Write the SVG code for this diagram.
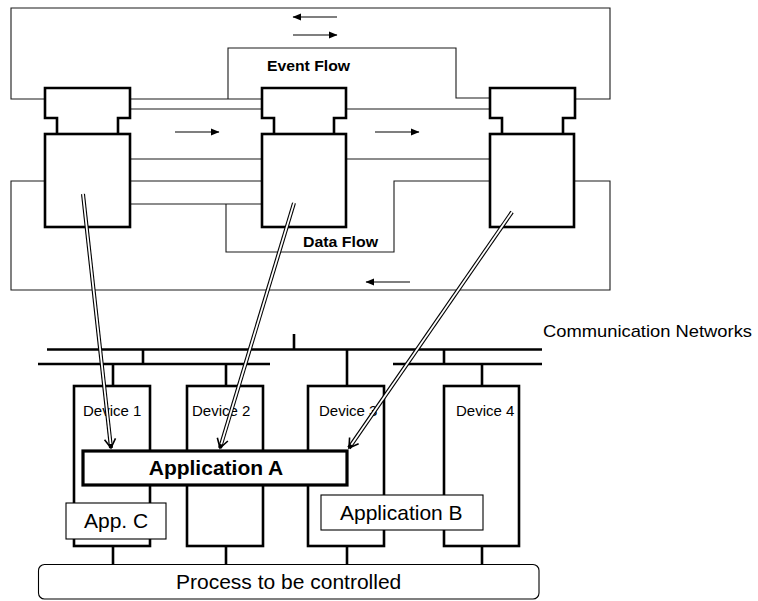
<svg xmlns="http://www.w3.org/2000/svg" width="758" height="601" viewBox="0 0 758 601">
  <defs>
    <style>
      text { font-family: "Liberation Sans", Arial, sans-serif; fill: #000; }
      .wire { fill: none; stroke: #1a1a1a; stroke-width: 1.1; }
      .fb { fill: #fff; stroke: #000; stroke-width: 2.6; stroke-linejoin: miter; }
      .dev { fill: #fff; stroke: #000; stroke-width: 2.6; }
      .bus { fill: none; stroke: #000; stroke-width: 2.6; }
      .app { fill: #fff; stroke: #000; stroke-width: 1.1; }
      .appA { fill: #fff; stroke: #000; stroke-width: 3.2; }
      .flow { fill: none; stroke: #000; stroke-width: 1.1; marker-end: url(#tri); }
      .dbl-out { fill: none; stroke: #000; stroke-width: 4; marker-end: url(#vee); }
      .dbl-in { fill: none; stroke: #fff; stroke-width: 1.8; }
      .lbl { font-size: 15px; }
      .big { font-size: 21px; }
      .bold { font-weight: bold; }
    </style>
    <marker id="tri" markerUnits="userSpaceOnUse" markerWidth="10" markerHeight="8" viewBox="0 -4 10 8" refX="8" refY="0" orient="auto">
      <path d="M0,-3.4 L8.5,0 L0,3.4 Z" fill="#000"/>
    </marker>
    <marker id="vee" markerUnits="userSpaceOnUse" markerWidth="14" markerHeight="14" viewBox="-11 -7 12 14" refX="0" refY="0" orient="auto">
      <path d="M-9,-5.5 L0,0 L-9,5.5" fill="none" stroke="#000" stroke-width="1.6"/>
    </marker>
  </defs>

  <rect width="758" height="601" fill="#fff"/>

  <!-- event and data wiring between function blocks -->
  <g id="connectors">
    <!-- outer event loop (top) -->
    <path class="wire" d="M45,99 H11 V8 H610 V99 H575"/>
    <!-- event lines -->
    <path class="wire" d="M130,99 H262"/>
    <path class="wire" d="M228,99 V48 H456 V98 H490"/>
    <path class="wire" d="M130,109 H262"/>
    <path class="wire" d="M346,109 H490"/>
    <!-- data lines -->
    <path class="wire" d="M130,159 H262"/>
    <path class="wire" d="M130,181 H262"/>
    <path class="wire" d="M130,204 H262"/>
    <path class="wire" d="M346,159 H490"/>
    <path class="wire" d="M226,204 V252 H394 V181 H490"/>
    <!-- outer data loop (bottom) -->
    <path class="wire" d="M45,181 H11 V290 H610 V181 H574"/>

    <!-- direction arrows -->
    <path class="flow" d="M337,17 H293"/>
    <path class="flow" d="M293,35 H337"/>
    <path class="flow" d="M175,132 H219"/>
    <path class="flow" d="M375,132 H419"/>
    <path class="flow" d="M410,282 H366"/>
  </g>

  <!-- function blocks -->
  <g id="fb1">
    <path class="fb" d="M57,134 V118 H45 V88 H130 V118 H118 V134"/>
    <rect class="fb" x="45" y="134" width="85" height="93"/>
  </g>
  <g id="fb2">
    <path class="fb" d="M274,134 V118 H262 V88 H346 V118 H334 V134"/>
    <rect class="fb" x="262" y="134" width="84" height="93"/>
  </g>
  <g id="fb3">
    <path class="fb" d="M502,134 V118 H490 V88 H575 V118 H563 V134"/>
    <rect class="fb" x="490" y="134" width="84" height="93"/>
  </g>

  <g id="flow-labels">
    <text class="bold" x="267" y="71" font-size="14" textLength="83" lengthAdjust="spacingAndGlyphs">Event Flow</text>
    <text class="bold" x="303" y="247" font-size="14" textLength="75" lengthAdjust="spacingAndGlyphs">Data Flow</text>
  </g>

  <!-- communication networks -->
  <g id="network">
    <path class="bus" d="M47,349.5 H542"/>
    <path class="bus" d="M38,364 H270"/>
    <path class="bus" d="M393,364 H542"/>
    <path class="bus" d="M294,334 V349.5"/>
    <path class="bus" d="M143,349.5 V364"/>
    <path class="bus" d="M444,349.5 V364"/>
    <!-- device drops -->
    <path class="bus" d="M113,364 V386"/>
    <path class="bus" d="M226,364 V386"/>
    <path class="bus" d="M347,349.5 V386"/>
    <path class="bus" d="M482,364 V386"/>
    <!-- process links -->
    <path class="bus" d="M113,546 V565"/>
    <path class="bus" d="M226,546 V565"/>
    <path class="bus" d="M347,546 V565"/>
    <path class="bus" d="M482,546 V565"/>
    <text x="543" y="337" font-size="17" textLength="209" lengthAdjust="spacingAndGlyphs">Communication Networks</text>
  </g>

  <!-- devices -->
  <g id="device1">
    <rect class="dev" x="74" y="386" width="76" height="160"/>
    <text class="lbl" x="83" y="416">Device 1</text>
  </g>
  <g id="device2">
    <rect class="dev" x="187" y="386" width="76" height="160"/>
    <text class="lbl" x="192" y="416">Device 2</text>
  </g>
  <g id="device3">
    <rect class="dev" x="308" y="386" width="76" height="160"/>
    <text class="lbl" x="319" y="416">Device 3</text>
  </g>
  <g id="device4">
    <rect class="dev" x="444" y="386" width="75" height="160"/>
    <text class="lbl" x="456" y="416">Device 4</text>
  </g>

  <!-- applications -->
  <g id="appA">
    <rect class="appA" x="83" y="451" width="264" height="34"/>
    <text class="bold" x="216" y="475" font-size="21" text-anchor="middle">Application A</text>
  </g>
  <g id="appC">
    <rect class="app" x="66" y="503" width="100" height="36"/>
    <text class="big" x="84" y="528">App. C</text>
  </g>
  <g id="appB">
    <rect class="app" x="321" y="495" width="162" height="35"/>
    <text x="340" y="520" font-size="21">Application B</text>
  </g>

  <!-- controlled process -->
  <g id="process">
    <rect x="38.5" y="564.5" width="500.5" height="34.5" rx="6" fill="#fff" stroke="#000" stroke-width="1.1"/>
    <text class="big" x="176" y="589">Process to be controlled</text>
  </g>

  <!-- mapping of function blocks onto devices -->
  <g id="mapping">
    <path class="dbl-out" d="M83,194 L111,448"/>
    <path class="dbl-in" d="M83,194 L110.6,444"/>
    <path class="dbl-out" d="M294,203 L220,448"/>
    <path class="dbl-in" d="M294,203 L221.2,444.2"/>
    <path class="dbl-out" d="M512,212 L349,448"/>
    <path class="dbl-in" d="M512,212 L351.3,444.7"/>
  </g>
</svg>
